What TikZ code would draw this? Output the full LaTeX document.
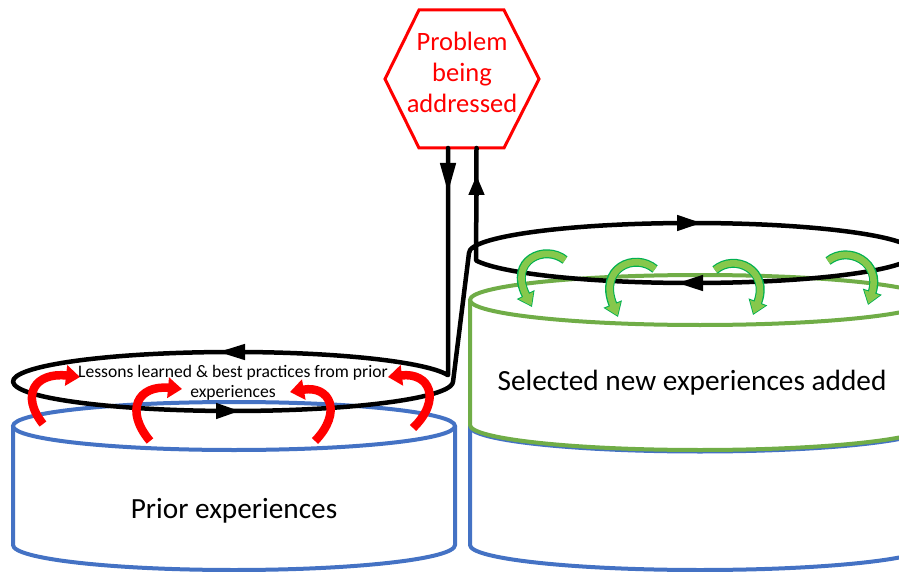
\documentclass[tikz,border=0pt]{standalone}
\usepackage{fontspec}
\setmainfont{Carlito}
\usetikzlibrary{arrows.meta}
\definecolor{cylblue}{HTML}{4472C4}
\definecolor{cylgreen}{HTML}{70AD47}
\definecolor{arrgreen}{HTML}{00B050}
\definecolor{arrlight}{HTML}{86C84C}
\definecolor{probred}{HTML}{FF0000}

\begin{document}
\begin{tikzpicture}[x=1pt,y=1pt,
  bluecyl/.style={draw=cylblue, line width=4pt, fill=white},
  greencyl/.style={draw=cylgreen, line width=4pt, fill=white},
  loopline/.style={draw=black, line width=4.5pt, line join=round, line cap=round},
  looptip/.style={draw=black, line width=4.5pt, -{Triangle[length=#1,width=15pt]}},
  redarrow/.style={draw=red, line width=8.5pt, line cap=butt, -{Triangle[length=14pt,width=20pt]}},
  greenout/.style={draw=arrgreen, line width=9pt, line cap=butt, -{Triangle[length=14pt,width=19pt]}},
  greenin/.style={draw=arrlight, line width=6.6pt, line cap=butt, shorten >=1.4pt, -{Triangle[length=11.6pt,width=15.6pt]}},
]
\useasboundingbox (0,0) rectangle (899,-572);

% left cylinder: prior experiences
\path[bluecyl] (13,-426) -- (13,-545) arc[start angle=180, end angle=360, x radius=221, y radius=25] -- (455,-426);
\draw[bluecyl] (234,-426) ellipse[x radius=221, y radius=24];

% right cylinder: blue base with green top section
\path[bluecyl] (470,-425) -- (470,-545) arc[start angle=180, end angle=360, x radius=230, y radius=25] -- (930,-425);
\draw[draw=cylblue, line width=4pt] (470,-426.5) arc[start angle=180, end angle=360, x radius=230, y radius=25];
\path[greencyl] (470,-300) -- (470,-425) arc[start angle=180, end angle=360, x radius=230, y radius=25] -- (930,-300);
\draw[greencyl] (700,-300) ellipse[x radius=230, y radius=25];

% problem hexagon
\draw[draw=probred, line width=3pt, line join=miter]
  (419,-10) -- (504,-10) -- (539,-79) -- (504,-148) -- (419,-148) -- (385,-79) -- cycle;
\node[text=probred, font=\fontsize{26.5}{31}\selectfont, align=center] (prob) at (462,-72) {Problem\\being\\addressed};
\coordinate (hexdown) at (448,-148);
\coordinate (hexup) at (476.5,-148);

% feedback loop around both stores
\draw[loopline] (hexdown) -- (448,-375.2)
  arc[start angle=12.3, end angle=360, x radius=220, y radius=29.5]
  -- (469,-253)
  arc[start angle=180, end angle=-165.5, x radius=223, y radius=30]
  -- (hexup);

% direction marks on the loop
\draw[looptip=30pt] (448,-160) -- (448,-193);
\draw[looptip=20pt] (476.5,-196) -- (476.5,-175);
\draw[looptip=27pt] (250,-352) -- (218,-352);
\draw[looptip=24pt] (212,-411) -- (240,-411);
\draw[looptip=25pt] (672,-223) -- (702,-223);
\draw[looptip=26pt] (708,-283) -- (677,-283);

% red curved arrows: lessons drawn from prior experiences
\draw[redarrow] (43,-424) .. controls (20,-395) and (35,-372) .. (80,-377);
\draw[redarrow] (150,-441) .. controls (124,-410) and (138,-385) .. (182,-389);
\draw[redarrow] (315,-441) .. controls (343,-412) and (330,-385) .. (290,-392);
\draw[redarrow] (413,-428) .. controls (442,-400) and (430,-372) .. (388,-377);

% green curved arrows: new experiences fed in
\foreach \p in {
  {(565,-260) .. controls (545,-244) and (508,-260) .. (532,-307)},
  {(655,-269) .. controls (635,-252) and (598,-268) .. (618,-317)},
  {(715,-270) .. controls (735,-253) and (770,-270) .. (753,-315)},
  {(828,-261) .. controls (848,-245) and (882,-262) .. (868,-305)}}
{
  \draw[greenout] \p;
  \draw[greenin] \p;
}

% labels
\node[font=\fontsize{17.6}{20.5}\selectfont, align=center] (lessons) at (233,-383)
  {Lessons learned \& best practices from prior\\experiences};
\node[font=\fontsize{29.3}{32}\selectfont, anchor=base] (prior) at (234,-518) {Prior experiences};
\node[font=\fontsize{29.3}{32}\selectfont, anchor=base] (selected) at (692,-390) {Selected new experiences added};
\end{tikzpicture}
\end{document}
